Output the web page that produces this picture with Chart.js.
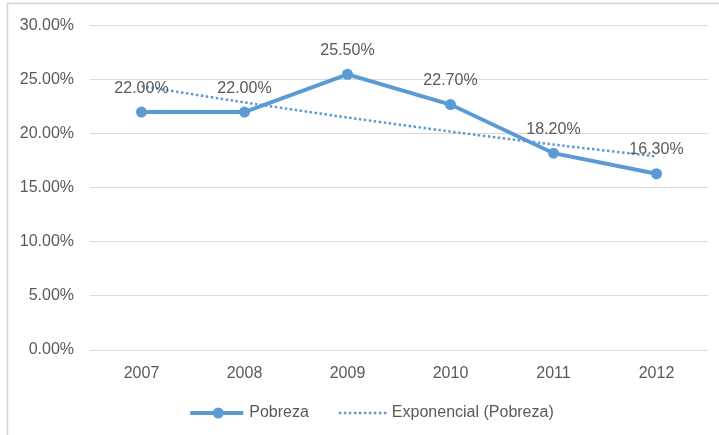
<!DOCTYPE html>
<html>
<head>
<meta charset="utf-8">
<script src="https://cdn.jsdelivr.net/npm/chart.js@4/dist/chart.umd.min.js"></script>
<style>
  body { margin: 0; background: #ffffff; }
  canvas { display: block; }
</style>
</head>
<body>
<canvas id="pobrezaChart" width="719" height="435"></canvas>
<script>
const years = ['2007', '2008', '2009', '2010', '2011', '2012'];
const pobreza = [22.0, 22.0, 25.5, 22.7, 18.2, 16.3];
// exponential trendline
const tendencia = [24.4, 22.9, 21.5, 20.2, 19.0, 17.9];

const blue = '#5b9bd5';
const textColor = '#595959';
const fontFamily = "'Liberation Sans', Arial, sans-serif";

// light frame on the left and top edge
const framePlugin = {
    id: 'frame',
    beforeDraw(chart) {
        const c = chart.ctx;
        c.save();
        c.strokeStyle = '#d4d4d4';
        c.lineWidth = 1.5;
        c.beginPath();
        c.moveTo(7.5, chart.height);
        c.lineTo(7.5, 3.5);
        c.lineTo(chart.width, 3.5);
        c.stroke();
        c.restore();
    }
};

// value labels above the Pobreza points
const labelPlugin = {
    id: 'valueLabels',
    afterDatasetsDraw(chart) {
        const c = chart.ctx;
        const meta = chart.getDatasetMeta(0);
        c.save();
        c.font = '16px ' + fontFamily;
        c.fillStyle = textColor;
        c.textAlign = 'center';
        c.textBaseline = 'middle';
        meta.data.forEach((pt, i) => {
            c.fillText(pobreza[i].toFixed(2) + '%', pt.x, pt.y - 24);
        });
        c.restore();
    }
};

// legend drawn by hand so it sits where the original one is
const legendPlugin = {
    id: 'manualLegend',
    afterDraw(chart) {
        const c = chart.ctx;
        const ds = chart.data.datasets;
        const y = 413;
        c.save();
        c.font = '16px ' + fontFamily;
        const w1 = c.measureText(ds[0].label).width;
        const w2 = c.measureText(ds[1].label).width;
        const total = 53 + 6 + w1 + 30 + 48 + 5 + w2;
        let x = 372 - total / 2;

        c.strokeStyle = blue;
        c.lineWidth = 4;
        c.beginPath();
        c.moveTo(x, y);
        c.lineTo(x + 53, y);
        c.stroke();
        c.fillStyle = blue;
        c.beginPath();
        c.arc(x + 28, y, 5.5, 0, Math.PI * 2);
        c.fill();
        x += 59;
        c.fillStyle = textColor;
        c.textBaseline = 'middle';
        c.fillText(ds[0].label, x, y);
        x += w1 + 30;

        c.lineWidth = 2.5;
        c.setLineDash([2.5, 2.5]);
        c.beginPath();
        c.moveTo(x, y);
        c.lineTo(x + 48, y);
        c.stroke();
        c.setLineDash([]);
        x += 53;
        c.fillText(ds[1].label, x, y);
        c.restore();
    }
};

new Chart(document.getElementById('pobrezaChart'), {
    type: 'line',
    data: {
        labels: years,
        datasets: [{
            label: 'Pobreza',
            data: pobreza,
            borderColor: blue,
            backgroundColor: blue,
            borderWidth: 4,
            pointRadius: 5.5,
            pointBackgroundColor: blue,
            pointBorderWidth: 0,
            tension: 0
        }, {
            label: 'Exponencial (Pobreza)',
            data: tendencia,
            borderColor: blue,
            borderWidth: 2.5,
            borderDash: [2.5, 2.5],
            pointRadius: 0,
            tension: 0.2
        }]
    },
    options: {
        responsive: false,
        animation: false,
        layout: {
            padding: { left: 0, top: 24, right: 11, bottom: 0 }
        },
        plugins: {
            legend: { display: false },
            tooltip: { enabled: false }
        },
        scales: {
            x: {
                offset: true,
                grid: { display: false, drawTicks: false },
                border: { display: false },
                ticks: {
                    color: textColor,
                    padding: 14,
                    font: { family: fontFamily, size: 16 }
                },
                afterFit(scale) { scale.height = 85; }
            },
            y: {
                min: 0,
                max: 30,
                grid: { color: '#d9d9d9', drawTicks: false },
                border: { display: false },
                ticks: {
                    stepSize: 5,
                    color: textColor,
                    padding: 16,
                    font: { family: fontFamily, size: 16 },
                    callback: v => v.toFixed(2) + '%'
                },
                afterFit(scale) { scale.width = 90; }
            }
        }
    },
    plugins: [framePlugin, labelPlugin, legendPlugin]
});
</script>
</body>
</html>
